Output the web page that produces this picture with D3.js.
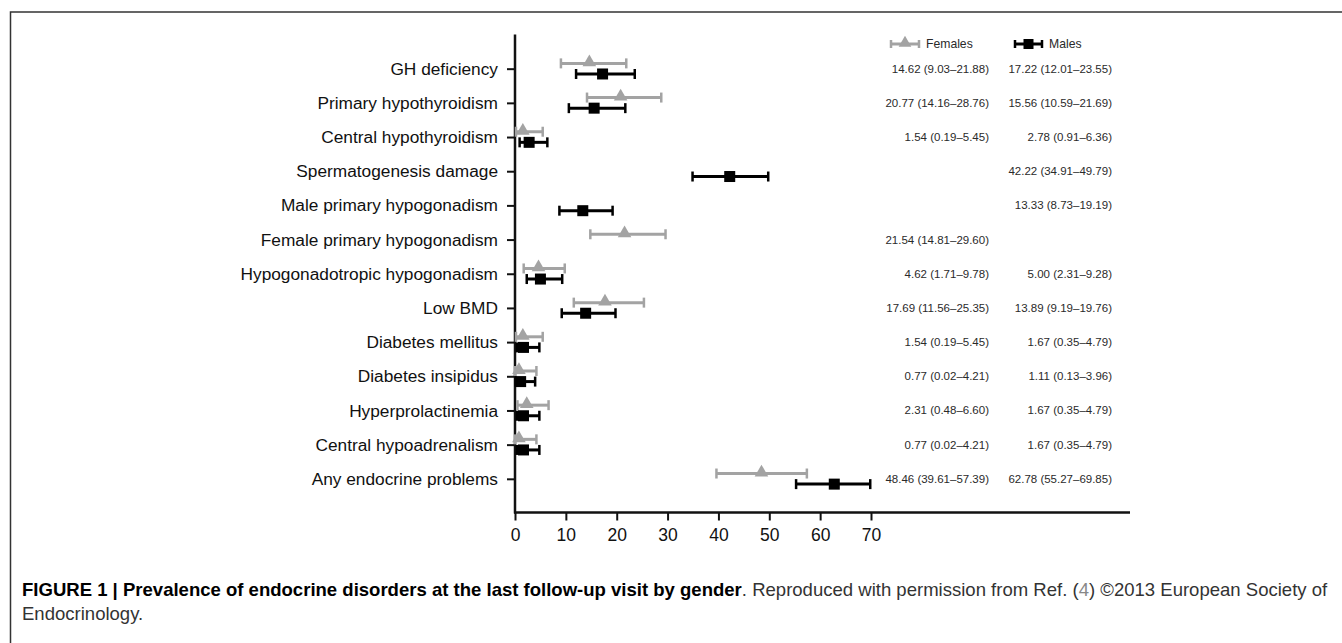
<!DOCTYPE html>
<html>
<head>
<meta charset="utf-8">
<script src="https://cdn.jsdelivr.net/npm/d3@7"></script>
<style>
  html, body { margin: 0; padding: 0; background: #fff; }
  svg { display: block; font-family: "Liberation Sans", Arial, Helvetica, sans-serif; }
</style>
</head>
<body>
<svg id="chart" width="1342" height="643"></svg>
<script>
// ---- data ----
const categories = [
  "GH deficiency",
  "Primary hypothyroidism",
  "Central hypothyroidism",
  "Spermatogenesis damage",
  "Male primary hypogonadism",
  "Female primary hypogonadism",
  "Hypogonadotropic hypogonadism",
  "Low BMD",
  "Diabetes mellitus",
  "Diabetes insipidus",
  "Hyperprolactinemia",
  "Central hypoadrenalism",
  "Any endocrine problems"
];
const femaleEst  = [14.62, 20.77, 1.54, null, null, 21.54, 4.62, 17.69, 1.54, 0.77, 2.31, 0.77, 48.46];
const femaleLow  = [9.03, 14.16, 0.19, null, null, 14.81, 1.71, 11.56, 0.19, 0.02, 0.48, 0.02, 39.61];
const femaleHigh = [21.88, 28.76, 5.45, null, null, 29.60, 9.78, 25.35, 5.45, 4.21, 6.60, 4.21, 57.39];
const maleEst    = [17.22, 15.56, 2.78, 42.22, 13.33, null, 5.00, 13.89, 1.67, 1.11, 1.67, 1.67, 62.78];
const maleLow    = [12.01, 10.59, 0.91, 34.91, 8.73, null, 2.31, 9.19, 0.35, 0.13, 0.35, 0.35, 55.27];
const maleHigh   = [23.55, 21.69, 6.36, 49.79, 19.19, null, 9.28, 19.76, 4.79, 3.96, 4.79, 4.79, 69.85];
const xTicks = [0, 10, 20, 30, 40, 50, 60, 70];
const seriesNames = ["Females", "Males"];

// ---- layout ----
const svg = d3.select("#chart");
const x = d3.scaleLinear().domain([0, 70]).range([515, 871]);
const y = d3.scalePoint().domain(categories).range([34.5, 513]).padding(1);
const axisBottomY = 512.5;
const axisRightEnd = 1130;
const grey = "#a3a3a3";
const black = "#000";
const off = 5.3;

const fmt = d3.format(".2f");

// outer frame (open at right / bottom like the crop)
svg.append("path")
  .attr("d", "M10.5,643 L10.5,12 L1342,12")
  .attr("fill", "none").attr("stroke", "#333").attr("stroke-width", 1.5);

// ---- axes ----
const yAxis = d3.axisLeft(y).tickSize(8).tickPadding(9);
const gy = svg.append("g").attr("transform", `translate(${x(0)},0)`).call(yAxis);
gy.select(".domain").remove();
gy.selectAll(".tick line").attr("stroke", "#111").attr("stroke-width", 2);
gy.selectAll(".tick text").attr("font-size", 17.3).attr("fill", "#111")
  .attr("font-family", "Liberation Sans, Arial, sans-serif");

const xAxis = d3.axisBottom(x).tickValues(xTicks).tickSize(8).tickPadding(8).tickFormat(d3.format("d"));
const gx = svg.append("g").attr("transform", `translate(0,${axisBottomY})`).call(xAxis);
gx.select(".domain").remove();
gx.selectAll(".tick line").attr("stroke", "#111").attr("stroke-width", 2);
gx.selectAll(".tick text").attr("font-size", 17.5).attr("fill", "#111")
  .attr("font-family", "Liberation Sans, Arial, sans-serif");

// axis lines
svg.append("line").attr("x1", x(0)).attr("x2", x(0)).attr("y1", 34.5).attr("y2", axisBottomY + 1)
  .attr("stroke", "#111").attr("stroke-width", 2.5);
svg.append("line").attr("x1", x(0) - 1).attr("x2", axisRightEnd).attr("y1", axisBottomY).attr("y2", axisBottomY)
  .attr("stroke", "#111").attr("stroke-width", 2.5);

// ---- marks ----
function drawSeries(est, low, high, color, dy, shape) {
  const rows = categories.map((c, i) => ({c, e: est[i], l: low[i], h: high[i]})).filter(d => d.e !== null);
  const g = svg.append("g");
  const cap = 5;
  rows.forEach(d => {
    const yy = y(d.c) + dy;
    g.append("line").attr("x1", x(d.l)).attr("x2", x(d.h)).attr("y1", yy).attr("y2", yy)
      .attr("stroke", color).attr("stroke-width", 3);
    [d.l, d.h].forEach(v => {
      g.append("line").attr("x1", x(v)).attr("x2", x(v)).attr("y1", yy - cap).attr("y2", yy + cap)
        .attr("stroke", color).attr("stroke-width", 2.5);
    });
    if (shape === "triangle") {
      g.append("path").attr("d", d3.symbol(d3.symbolTriangle, 80)())
        .attr("transform", `translate(${x(d.e)},${yy - 1})`).attr("fill", color);
    } else {
      g.append("rect").attr("x", x(d.e) - 5.5).attr("y", yy - 5.5).attr("width", 11).attr("height", 11)
        .attr("fill", color);
    }
  });
}
drawSeries(femaleEst, femaleLow, femaleHigh, grey, -off, "triangle");
drawSeries(maleEst, maleLow, maleHigh, black, off, "square");

// ---- value text columns ----
const valFont = 11.5;
const tg = svg.append("g").attr("font-size", valFont).attr("fill", "#2a2a2a").attr("text-anchor", "end");
categories.forEach((c, i) => {
  if (femaleEst[i] !== null) {
    tg.append("text").attr("x", 989).attr("y", y(c)).attr("dy", "0.35em")
      .text(`${fmt(femaleEst[i])} (${fmt(femaleLow[i])}\u2013${fmt(femaleHigh[i])})`);
  }
  if (maleEst[i] !== null) {
    tg.append("text").attr("x", 1112).attr("y", y(c)).attr("dy", "0.35em")
      .text(`${fmt(maleEst[i])} (${fmt(maleLow[i])}\u2013${fmt(maleHigh[i])})`);
  }
});

// ---- legend ----
function legendItem(x0, x1, color, shape, label) {
  const g = svg.append("g");
  const ly = 44;
  g.append("line").attr("x1", x0).attr("x2", x1).attr("y1", ly).attr("y2", ly)
    .attr("stroke", color).attr("stroke-width", 3);
  [x0, x1].forEach(v => g.append("line").attr("x1", v).attr("x2", v).attr("y1", ly - 4).attr("y2", ly + 4)
    .attr("stroke", color).attr("stroke-width", 2.5));
  const cx = (x0 + x1) / 2;
  if (shape === "triangle") {
    g.append("path").attr("d", d3.symbol(d3.symbolTriangle, 70)())
      .attr("transform", `translate(${cx},${ly - 1})`).attr("fill", color);
  } else {
    g.append("rect").attr("x", cx - 5).attr("y", ly - 5).attr("width", 10).attr("height", 10).attr("fill", color);
  }
  g.append("text").attr("x", x1 + 7).attr("y", ly).attr("dy", "0.35em")
    .attr("font-size", 12.2).attr("fill", "#2a2a2a").text(label);
}
legendItem(891, 919, grey, "triangle", seriesNames[0]);
legendItem(1015, 1042, black, "square", seriesNames[1]);

// ---- caption ----
const cap1 = svg.append("text").attr("x", 22).attr("y", 596).attr("font-size", 15)
  .attr("font-family", "Liberation Sans, Arial, sans-serif");
cap1.append("tspan").attr("font-weight", "bold").attr("fill", "#000")
  .text("FIGURE 1 | Prevalence of endocrine disorders at the last follow-up visit by gender");
cap1.append("tspan").attr("fill", "#333").text(". Reproduced with permission from Ref. (");
cap1.append("tspan").attr("fill", "#888").text("4");
cap1.append("tspan").attr("fill", "#333").text(") \u00A92013 European Society of");
// fit line to the reference's width
const w = cap1.node().getComputedTextLength();
const fs = 15 * (1306 / w);
cap1.attr("font-size", fs);
svg.append("text").attr("x", 22).attr("y", 620).attr("font-size", fs).attr("fill", "#333")
  .attr("font-family", "Liberation Sans, Arial, sans-serif").text("Endocrinology.");
</script>
</body>
</html>
